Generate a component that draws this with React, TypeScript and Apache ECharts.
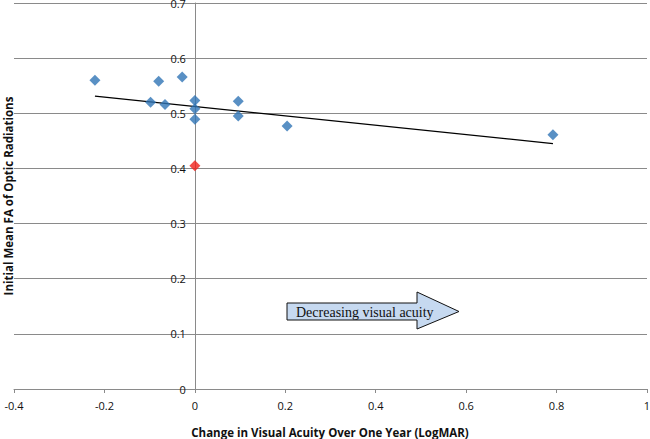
import React, { useEffect, useRef } from "react";
import * as echarts from "echarts";

const blueX = [-0.221, -0.08, -0.028, -0.098, -0.066, 0, 0, 0, 0.096, 0.096, 0.204, 0.792];
const blueY = [0.56, 0.558, 0.566, 0.52, 0.516, 0.523, 0.508, 0.489, 0.522, 0.495, 0.477, 0.461];
const redX = [0];
const redY = [0.405];
const trendX = [-0.221, 0.792];
const trendY = [0.531, 0.445];
const xTicks = { min: -0.4, max: 1, interval: 0.2 };
const yTicks = { min: 0, max: 0.7, interval: 0.1 };
const xTitle = "Change in Visual Acuity Over One Year (LogMAR)";
const yTitle = "Initial Mean FA of Optic Radiations";
const arrowText = "Decreasing visual acuity";

const GRID_LEFT = 14;
const GRID_RIGHT = 3;
const WIDTH = 650;

export default function App() {
  const ref = useRef<HTMLDivElement>(null);
  useEffect(() => {
    const chart = echarts.init(ref.current!, undefined, { renderer: "svg" });
    const font = "'Open Sans', 'Noto Sans', sans-serif";
    const plotW = WIDTH - GRID_LEFT - GRID_RIGHT;
    const zeroOffset = ((0 - xTicks.min) / (xTicks.max - xTicks.min)) * plotW;
    chart.setOption({
      animation: false,
      backgroundColor: "#ffffff",
      grid: {
        left: GRID_LEFT,
        right: GRID_RIGHT,
        top: 3,
        bottom: 50,
        containLabel: false,
        outerBoundsMode: "none",
      },
      xAxis: {
        type: "value",
        min: xTicks.min,
        max: xTicks.max,
        interval: xTicks.interval,
        splitLine: { show: false },
        axisLine: { show: true, lineStyle: { color: "#8a8a8a", width: 1 } },
        axisTick: { show: true, length: 4, lineStyle: { color: "#8a8a8a" } },
        axisLabel: { color: "#111", fontSize: 11, fontFamily: font, margin: 11 },
      },
      yAxis: {
        type: "value",
        position: "left",
        offset: -zeroOffset,
        min: yTicks.min,
        max: yTicks.max,
        interval: yTicks.interval,
        splitLine: { show: true, lineStyle: { color: "#8a8a8a", width: 1 } },
        axisLine: { show: true, onZero: false, lineStyle: { color: "#8a8a8a", width: 1 } },
        axisTick: { show: true, length: 4, lineStyle: { color: "#8a8a8a" } },
        axisLabel: { color: "#111", fontSize: 11, fontFamily: font, margin: 9 },
      },
      series: [
        {
          type: "line",
          data: trendX.map((x, i) => [x, trendY[i]]),
          showSymbol: false,
          lineStyle: { color: "#000", width: 1.3 },
          z: 3,
        },
        {
          type: "scatter",
          data: blueX.map((x, i) => [x, blueY[i]]),
          symbol: "diamond",
          symbolSize: 11,
          itemStyle: { color: "#2f74b5" },
          z: 4,
        },
        {
          type: "scatter",
          data: redX.map((x, i) => [x, redY[i]]),
          symbol: "diamond",
          symbolSize: 11,
          itemStyle: { color: "#f0201a" },
          z: 4,
        },
      ],
      graphic: [
        {
          type: "text",
          x: 330,
          y: 432,
          style: {
            text: xTitle,
            fontSize: 11.5,
            fontWeight: "bold",
            fontFamily: font,
            fill: "#111",
            textAlign: "center",
            textVerticalAlign: "middle",
          },
        },
        {
          type: "text",
          x: 8,
          y: 196,
          rotation: Math.PI / 2,
          style: {
            text: yTitle,
            fontSize: 11.5,
            fontWeight: "bold",
            fontFamily: font,
            fill: "#111",
            textAlign: "center",
            textVerticalAlign: "middle",
          },
        },
        {
          type: "polygon",
          shape: {
            points: [
              [287, 303],
              [417, 303],
              [417, 292],
              [459, 311.5],
              [417, 329],
              [417, 320],
              [287, 320],
            ],
          },
          style: { fill: "#c6d9f0", stroke: "#111", lineWidth: 1 },
        },
        {
          type: "text",
          x: 296,
          y: 312,
          style: {
            text: arrowText,
            fontSize: 14,
            fontFamily: "'Liberation Serif', 'Times New Roman', serif",
            fill: "#111",
            textAlign: "left",
            textVerticalAlign: "middle",
          },
        },
      ],
    });
    return () => chart.dispose();
  }, []);
  return <div ref={ref} style={{ width: 650, height: 439, position: "absolute", left: 0, top: 0 }} />;
}
